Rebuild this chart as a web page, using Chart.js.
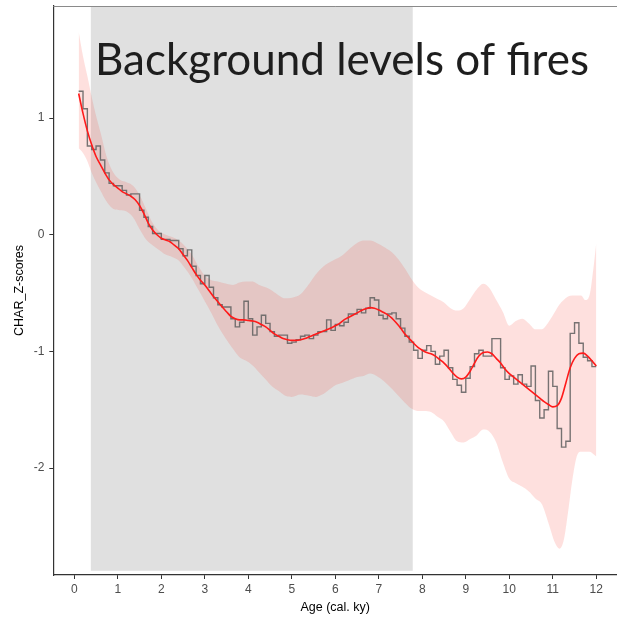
<!DOCTYPE html>
<html>
<head>
<meta charset="utf-8">
<script src="https://cdn.jsdelivr.net/npm/chart.js@4/dist/chart.umd.min.js"></script>
<style>
  html, body { margin: 0; padding: 0; background: #ffffff; }
  #wrap { width: 617px; height: 620px; }
</style>
</head>
<body>
<div id="wrap"><canvas id="c" width="617" height="620"></canvas></div>
<script>
// ---------- DATA ----------
const chartTitle = "Background levels of fires";
const xAxisTitle = "Age (cal. ky)";
const yAxisTitle = "CHAR_Z-scores";

const xTicks = [0,1,2,3,4,5,6,7,8,9,10,11,12];
const yTicks = [-2,-1,0,1];

// Age bins (cal. ky), start of each 0.1 ky bin; last entry closes the final step
const ages = [0.1,0.2,0.3,0.4,0.5,0.6,0.7,0.8,0.9,1.0,
  1.1,1.2,1.3,1.4,1.5,1.6,1.7,1.8,1.9,2.0,
  2.1,2.2,2.3,2.4,2.5,2.6,2.7,2.8,2.9,3.0,
  3.1,3.2,3.3,3.4,3.5,3.6,3.7,3.8,3.9,4.0,
  4.1,4.2,4.3,4.4,4.5,4.6,4.7,4.8,4.9,5.0,
  5.1,5.2,5.3,5.4,5.5,5.6,5.7,5.8,5.9,6.0,
  6.1,6.2,6.3,6.4,6.5,6.6,6.7,6.8,6.9,7.0,
  7.1,7.2,7.3,7.4,7.5,7.6,7.7,7.8,7.9,8.0,
  8.1,8.2,8.3,8.4,8.5,8.6,8.7,8.8,8.9,9.0,
  9.1,9.2,9.3,9.4,9.5,9.6,9.7,9.8,9.9,10.0,
  10.1,10.2,10.3,10.4,10.5,10.6,10.7,10.8,10.9,11.0,
  11.1,11.2,11.3,11.4,11.5,11.6,11.7,11.8,11.9,12.0];

// Binned CHAR Z-scores (step line)
const charZ = [1.23,1.08,0.76,0.73,0.76,0.64,0.53,0.44,0.42,0.42,
  0.38,0.34,0.35,0.35,0.21,0.15,0.07,0.01,0.01,-0.04,
  -0.04,-0.05,-0.05,-0.12,-0.18,-0.13,-0.27,-0.35,-0.42,-0.35,
  -0.45,-0.54,-0.60,-0.62,-0.62,-0.72,-0.79,-0.75,-0.57,-0.72,
  -0.86,-0.79,-0.69,-0.76,-0.83,-0.87,-0.86,-0.86,-0.93,-0.92,
  -0.90,-0.87,-0.86,-0.89,-0.86,-0.83,-0.83,-0.73,-0.82,-0.77,
  -0.78,-0.75,-0.68,-0.68,-0.64,-0.67,-0.63,-0.54,-0.56,-0.69,
  -0.72,-0.68,-0.67,-0.72,-0.80,-0.87,-0.92,-0.99,-1.06,-0.99,
  -0.95,-1.00,-1.11,-1.04,-0.99,-1.14,-1.24,-1.29,-1.35,-1.23,
  -1.13,-1.02,-0.99,-1.04,-1.04,-0.89,-0.89,-1.14,-1.24,-1.21,
  -1.28,-1.20,-1.28,-1.30,-1.125,-1.42,-1.57,-1.50,-1.17,-1.30,
  -1.66,-1.82,-1.77,-0.845,-0.755,-0.93,-1.05,-1.08,-1.13,-1.13];

// Smoothed trend (red line)
const trend = [1.21,1.04,0.89,0.77,0.67,0.60,0.53,0.47,0.43,0.40,
  0.37,0.35,0.33,0.30,0.25,0.18,0.10,0.04,0.00,-0.03,
  -0.045,-0.06,-0.09,-0.12,-0.17,-0.22,-0.28,-0.34,-0.39,-0.43,
  -0.48,-0.53,-0.575,-0.62,-0.66,-0.70,-0.72,-0.73,-0.73,-0.735,
  -0.74,-0.75,-0.77,-0.79,-0.82,-0.85,-0.87,-0.89,-0.90,-0.905,
  -0.905,-0.90,-0.89,-0.875,-0.86,-0.845,-0.83,-0.815,-0.80,-0.78,
  -0.76,-0.73,-0.71,-0.69,-0.67,-0.65,-0.635,-0.625,-0.63,-0.645,
  -0.665,-0.685,-0.715,-0.755,-0.80,-0.85,-0.89,-0.93,-0.965,-0.99,
  -1.01,-1.02,-1.04,-1.07,-1.10,-1.14,-1.185,-1.22,-1.235,-1.22,
  -1.17,-1.10,-1.04,-1.01,-1.005,-1.02,-1.06,-1.10,-1.15,-1.19,
  -1.22,-1.25,-1.28,-1.31,-1.34,-1.37,-1.40,-1.43,-1.455,-1.475,
  -1.465,-1.40,-1.27,-1.14,-1.06,-1.02,-1.015,-1.04,-1.08,-1.125];

// Confidence envelope
const bandAges = [0.1,0.2,0.3,0.4,0.5,0.6,0.75,0.9,1.05,1.2,1.35,1.5,1.65,1.8,1.95,
  2.1,2.25,2.4,2.55,2.7,2.85,3.0,3.15,3.3,3.5,3.65,3.8,3.95,4.1,4.25,4.4,4.55,4.7,4.85,
  5.0,5.2,5.4,5.55,5.7,5.85,6.0,6.15,6.3,6.5,6.65,6.8,6.95,7.1,7.3,7.45,7.6,7.75,7.9,
  8.05,8.2,8.35,8.5,8.65,8.8,8.95,9.1,9.25,9.4,9.55,9.7,9.85,10.0,10.15,10.3,10.45,
  10.6,10.75,10.9,11.05,11.15,11.25,11.35,11.45,11.55,11.65,11.75,11.85,11.93,12.0];
const bandUpper = [1.74,1.53,1.36,1.18,1.02,0.88,0.66,0.53,0.47,0.45,0.42,0.34,0.22,0.10,0.03,
  0.00,-0.02,-0.05,-0.10,-0.17,-0.27,-0.35,-0.39,-0.40,-0.42,-0.43,-0.41,-0.40,-0.40,-0.43,-0.45,-0.48,-0.52,-0.545,
  -0.54,-0.51,-0.42,-0.34,-0.28,-0.24,-0.21,-0.18,-0.13,-0.07,-0.05,-0.05,-0.07,-0.10,-0.15,-0.21,-0.29,-0.38,-0.45,
  -0.49,-0.52,-0.55,-0.58,-0.63,-0.65,-0.63,-0.55,-0.47,-0.42,-0.46,-0.56,-0.66,-0.78,-0.74,-0.72,-0.76,
  -0.81,-0.81,-0.75,-0.66,-0.60,-0.56,-0.53,-0.52,-0.52,-0.52,-0.56,-0.51,-0.30,-0.07];
const bandLower = [0.74,0.70,0.63,0.53,0.45,0.38,0.28,0.22,0.21,0.20,0.15,0.05,-0.04,-0.09,-0.13,
  -0.17,-0.19,-0.22,-0.29,-0.37,-0.47,-0.57,-0.67,-0.78,-0.90,-0.98,-1.05,-1.08,-1.12,-1.18,-1.24,-1.30,-1.34,-1.38,
  -1.39,-1.37,-1.38,-1.39,-1.37,-1.33,-1.29,-1.27,-1.25,-1.22,-1.21,-1.19,-1.21,-1.25,-1.32,-1.38,-1.44,-1.49,-1.51,
  -1.51,-1.52,-1.56,-1.60,-1.69,-1.77,-1.78,-1.75,-1.72,-1.67,-1.69,-1.78,-1.95,-2.09,-2.13,-2.16,-2.20,
  -2.26,-2.31,-2.47,-2.64,-2.69,-2.62,-2.38,-2.10,-1.90,-1.86,-1.86,-1.86,-1.88,-1.90];

// Highlighted period (background levels)
const shadeStart = 0.38;
const shadeEnd = 7.78;
const shadeBottom = -2.88;

// Axis ranges
const xMin = -0.483, xMax = 12.476;
const yMin = -2.916, yMax = 1.96;

// ---------- BUILD ----------
const pts = (xs, ys) => xs.map((x, i) => ({x: x, y: ys[i]}));

const shadePlugin = {
  id: 'shade',
  beforeDatasetsDraw(chart) {
    const {ctx, chartArea, scales} = chart;
    const x0 = scales.x.getPixelForValue(shadeStart);
    const x1 = scales.x.getPixelForValue(shadeEnd);
    const yb = scales.y.getPixelForValue(shadeBottom);
    ctx.save();
    ctx.fillStyle = '#e0e0e0';
    ctx.fillRect(x0, chartArea.top, x1 - x0, yb - chartArea.top);
    ctx.restore();
  },
  afterDraw(chart) {
    const {ctx, chartArea} = chart;
    ctx.save();
    // top frame line
    ctx.strokeStyle = '#8a8a8a';
    ctx.lineWidth = 1;
    ctx.beginPath();
    ctx.moveTo(chartArea.left, chartArea.top + 0.5);
    ctx.lineTo(chartArea.right, chartArea.top + 0.5);
    ctx.stroke();
    // overlay title
    ctx.fillStyle = '#1e1e1e';
    ctx.textBaseline = 'alphabetic';
    ctx.textAlign = 'left';
    let size = 42;
    ctx.font = size + 'px Lato, "Open Sans", sans-serif';
    const w = ctx.measureText(chartTitle).width;
    size = size * 494 / w;
    ctx.font = size.toFixed(2) + 'px Lato, "Open Sans", sans-serif';
    ctx.fillText(chartTitle, 95, 75);
    ctx.restore();
  }
};

new Chart(document.getElementById('c'), {
  type: 'line',
  data: {
    datasets: [
      {
        label: 'upper',
        data: pts(bandAges, bandUpper),
        borderWidth: 0,
        borderColor: 'rgba(0,0,0,0)',
        pointRadius: 0,
        fill: false,
        tension: 0.4,
        cubicInterpolationMode: 'monotone',
        order: 3
      },
      {
        label: 'lower',
        data: pts(bandAges, bandLower),
        borderWidth: 0,
        borderColor: 'rgba(0,0,0,0)',
        pointRadius: 0,
        fill: '-1',
        backgroundColor: 'rgba(248,60,50,0.16)',
        tension: 0.4,
        cubicInterpolationMode: 'monotone',
        order: 3
      },
      {
        label: 'CHAR',
        data: pts(ages, charZ),
        stepped: 'before',
        borderColor: 'rgba(95,95,95,0.85)',
        borderWidth: 1.4,
        pointRadius: 0,
        fill: false,
        order: 2
      },
      {
        label: 'trend',
        data: pts(ages, trend),
        borderColor: '#ff1a1a',
        borderWidth: 1.6,
        pointRadius: 0,
        fill: false,
        tension: 0.4,
        cubicInterpolationMode: 'monotone',
        order: 1
      }
    ]
  },
  options: {
    responsive: false,
    animation: false,
    layout: { padding: { top: 6, right: 0, bottom: 0, left: 0 } },
    plugins: {
      legend: { display: false },
      tooltip: { enabled: false },
      title: { display: false }
    },
    scales: {
      x: {
        type: 'linear',
        min: xMin,
        max: xMax,
        afterBuildTicks(axis) { axis.ticks = xTicks.map(v => ({value: v})); },
        afterFit(axis) { axis.height = 45; axis.paddingLeft = 0; axis.paddingRight = 0; },
        grid: { drawOnChartArea: false, drawTicks: true, tickLength: 4, tickColor: '#333333', tickWidth: 1 },
        border: { display: true, color: '#333333', width: 1.2 },
        ticks: {
          color: '#4d4d4d',
          font: { family: '"Liberation Sans", Arial, sans-serif', size: 12 },
          padding: 3,
          maxRotation: 0,
          autoSkip: false,
          callback: v => String(v)
        },
        title: {
          display: true,
          text: xAxisTitle,
          color: '#000000',
          font: { family: '"Liberation Sans", Arial, sans-serif', size: 12.5 },
          padding: { top: 0, bottom: 4.5 }
        }
      },
      y: {
        type: 'linear',
        min: yMin,
        max: yMax,
        afterBuildTicks(axis) { axis.ticks = yTicks.map(v => ({value: v})); },
        afterFit(axis) { axis.width = 53.3; axis.paddingTop = 0; axis.paddingBottom = 0; },
        grid: { drawOnChartArea: false, drawTicks: true, tickLength: 4, tickColor: '#333333', tickWidth: 1 },
        border: { display: true, color: '#333333', width: 1.2 },
        ticks: {
          color: '#4d4d4d',
          font: { family: '"Liberation Sans", Arial, sans-serif', size: 12 },
          padding: 5,
          autoSkip: false,
          callback: v => String(v)
        },
        title: {
          display: true,
          text: yAxisTitle,
          color: '#000000',
          font: { family: '"Liberation Sans", Arial, sans-serif', size: 12.5 },
          padding: { top: 12.5, bottom: 0 }
        }
      }
    }
  },
  plugins: [shadePlugin]
});
</script>
</body>
</html>
